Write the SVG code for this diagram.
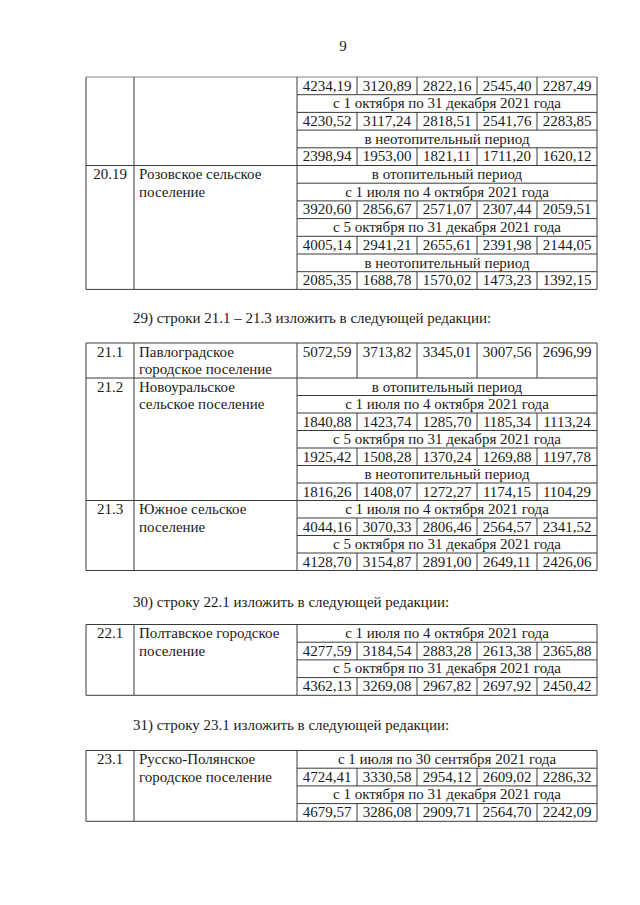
<svg xmlns="http://www.w3.org/2000/svg" width="640" height="905" viewBox="0 0 640 905">
<style>
text{font-family:"Liberation Serif","Times New Roman",serif;font-size:15px;fill:#1a1a1a}
.c{text-anchor:middle}
.g{stroke:#3a3a3a;stroke-width:1;fill:none}
.f{stroke:#8a8a8a;stroke-width:1;fill:none}
</style>
<rect width="640" height="905" fill="#ffffff"/>
<text id="pagenum" class="c" x="343" y="51">9</text>

<g id="table1">
<g id="t1-grid">
<path class="f" d="M86 77H597"/>
<path class="g" d="M86 77V289.4M134 77V289.4M297 77V289.4M597 77V289.4"/>
<path class="g" d="M297 94.7H597M297 112.4H597M297 130.1H597M297 147.8H597M86 165.5H597M297 183.2H597M297 200.9H597M297 218.6H597M297 236.3H597M297 254H597M297 271.7H597M86 289.4H597"/>
<path class="g" d="M357 77V94.7M417 77V94.7M477 77V94.7M537 77V94.7M357 112.4V130.1M417 112.4V130.1M477 112.4V130.1M537 112.4V130.1M357 147.8V165.5M417 147.8V165.5M477 147.8V165.5M537 147.8V165.5M357 200.9V218.6M417 200.9V218.6M477 200.9V218.6M537 200.9V218.6M357 236.3V254M417 236.3V254M477 236.3V254M537 236.3V254M357 271.7V289.4M417 271.7V289.4M477 271.7V289.4M537 271.7V289.4"/>
</g>
<g id="t1-prev">
<text class="c" x="327" y="90.5">4234,19</text><text class="c" x="387" y="90.5">3120,89</text><text class="c" x="447" y="90.5">2822,16</text><text class="c" x="507" y="90.5">2545,40</text><text class="c" x="567" y="90.5">2287,49</text>
<text class="c" x="447" y="108.2">с 1 октября по 31 декабря 2021 года</text>
<text class="c" x="327" y="125.9">4230,52</text><text class="c" x="387" y="125.9">3117,24</text><text class="c" x="447" y="125.9">2818,51</text><text class="c" x="507" y="125.9">2541,76</text><text class="c" x="567" y="125.9">2283,85</text>
<text class="c" x="447" y="143.6">в неотопительный период</text>
<text class="c" x="327" y="161.3">2398,94</text><text class="c" x="387" y="161.3">1953,00</text><text class="c" x="447" y="161.3">1821,11</text><text class="c" x="507" y="161.3">1711,20</text><text class="c" x="567" y="161.3">1620,12</text>
</g>
<g id="row-20-19">
<text class="c" x="110" y="179">20.19</text>
<text x="139" y="179">Розовское сельское</text>
<text x="139" y="196.7">поселение</text>
<text class="c" x="447" y="179">в отопительный период</text>
<text class="c" x="447" y="196.7">с 1 июля по 4 октября 2021 года</text>
<text class="c" x="327" y="214.4">3920,60</text><text class="c" x="387" y="214.4">2856,67</text><text class="c" x="447" y="214.4">2571,07</text><text class="c" x="507" y="214.4">2307,44</text><text class="c" x="567" y="214.4">2059,51</text>
<text class="c" x="447" y="232.1">с 5 октября по 31 декабря 2021 года</text>
<text class="c" x="327" y="249.8">4005,14</text><text class="c" x="387" y="249.8">2941,21</text><text class="c" x="447" y="249.8">2655,61</text><text class="c" x="507" y="249.8">2391,98</text><text class="c" x="567" y="249.8">2144,05</text>
<text class="c" x="447" y="267.5">в неотопительный период</text>
<text class="c" x="327" y="285.2">2085,35</text><text class="c" x="387" y="285.2">1688,78</text><text class="c" x="447" y="285.2">1570,02</text><text class="c" x="507" y="285.2">1473,23</text><text class="c" x="567" y="285.2">1392,15</text>
</g>
</g>

<text id="para29" x="133" y="323">29) строки 21.1 – 21.3 изложить в следующей редакции:</text>

<g id="table2">
<g id="t2-grid">
<path class="g" d="M86 343V570.5M134 343V570.5M297 343V570.5M597 343V570.5"/>
<path class="g" d="M86 343H597M86 378H597M297 395.5H597M297 413H597M297 430.5H597M297 448H597M297 465.5H597M297 483H597M86 500.5H597M297 518H597M297 535.5H597M297 553H597M86 570.5H597"/>
<path class="g" d="M357 343V378M417 343V378M477 343V378M537 343V378M357 413V430.5M417 413V430.5M477 413V430.5M537 413V430.5M357 448V465.5M417 448V465.5M477 448V465.5M537 448V465.5M357 483V500.5M417 483V500.5M477 483V500.5M537 483V500.5M357 518V535.5M417 518V535.5M477 518V535.5M537 518V535.5M357 553V570.5M417 553V570.5M477 553V570.5M537 553V570.5"/>
</g>
<g id="row-21-1">
<text class="c" x="110" y="356.5">21.1</text>
<text x="139" y="356.5">Павлоградское</text>
<text x="139" y="373.5">городское поселение</text>
<text class="c" x="327" y="356.5">5072,59</text><text class="c" x="387" y="356.5">3713,82</text><text class="c" x="447" y="356.5">3345,01</text><text class="c" x="507" y="356.5">3007,56</text><text class="c" x="567" y="356.5">2696,99</text>
</g>
<g id="row-21-2">
<text class="c" x="110" y="391.5">21.2</text>
<text x="139" y="391.5">Новоуральское</text>
<text x="139" y="409">сельское поселение</text>
<text class="c" x="447" y="391.5">в отопительный период</text>
<text class="c" x="447" y="409">с 1 июля по 4 октября 2021 года</text>
<text class="c" x="327" y="426.5">1840,88</text><text class="c" x="387" y="426.5">1423,74</text><text class="c" x="447" y="426.5">1285,70</text><text class="c" x="507" y="426.5">1185,34</text><text class="c" x="567" y="426.5">1113,24</text>
<text class="c" x="447" y="444">с 5 октября по 31 декабря 2021 года</text>
<text class="c" x="327" y="461.5">1925,42</text><text class="c" x="387" y="461.5">1508,28</text><text class="c" x="447" y="461.5">1370,24</text><text class="c" x="507" y="461.5">1269,88</text><text class="c" x="567" y="461.5">1197,78</text>
<text class="c" x="447" y="479">в неотопительный период</text>
<text class="c" x="327" y="496.5">1816,26</text><text class="c" x="387" y="496.5">1408,07</text><text class="c" x="447" y="496.5">1272,27</text><text class="c" x="507" y="496.5">1174,15</text><text class="c" x="567" y="496.5">1104,29</text>
</g>
<g id="row-21-3">
<text class="c" x="110" y="514">21.3</text>
<text x="139" y="514">Южное сельское</text>
<text x="139" y="531.5">поселение</text>
<text class="c" x="447" y="514">с 1 июля по 4 октября 2021 года</text>
<text class="c" x="327" y="531.5">4044,16</text><text class="c" x="387" y="531.5">3070,33</text><text class="c" x="447" y="531.5">2806,46</text><text class="c" x="507" y="531.5">2564,57</text><text class="c" x="567" y="531.5">2341,52</text>
<text class="c" x="447" y="549">с 5 октября по 31 декабря 2021 года</text>
<text class="c" x="327" y="566.5">4128,70</text><text class="c" x="387" y="566.5">3154,87</text><text class="c" x="447" y="566.5">2891,00</text><text class="c" x="507" y="566.5">2649,11</text><text class="c" x="567" y="566.5">2426,06</text>
</g>
</g>

<text id="para30" x="133" y="607">30) строку 22.1 изложить в следующей редакции:</text>

<g id="table3">
<g id="t3-grid">
<path class="g" d="M86 624.5V695.3M134 624.5V695.3M297 624.5V695.3M597 624.5V695.3"/>
<path class="g" d="M86 624.5H597M297 642.2H597M297 659.9H597M297 677.6H597M86 695.3H597"/>
<path class="g" d="M357 642.2V659.9M417 642.2V659.9M477 642.2V659.9M537 642.2V659.9M357 677.6V695.3M417 677.6V695.3M477 677.6V695.3M537 677.6V695.3"/>
</g>
<g id="row-22-1">
<text class="c" x="110" y="638">22.1</text>
<text x="139" y="638">Полтавское городское</text>
<text x="139" y="655.7">поселение</text>
<text class="c" x="447" y="638">с 1 июля по 4 октября 2021 года</text>
<text class="c" x="327" y="655.7">4277,59</text><text class="c" x="387" y="655.7">3184,54</text><text class="c" x="447" y="655.7">2883,28</text><text class="c" x="507" y="655.7">2613,38</text><text class="c" x="567" y="655.7">2365,88</text>
<text class="c" x="447" y="673.4">с 5 октября по 31 декабря 2021 года</text>
<text class="c" x="327" y="691.1">4362,13</text><text class="c" x="387" y="691.1">3269,08</text><text class="c" x="447" y="691.1">2967,82</text><text class="c" x="507" y="691.1">2697,92</text><text class="c" x="567" y="691.1">2450,42</text>
</g>
</g>

<text id="para31" x="133" y="730">31) строку 23.1 изложить в следующей редакции:</text>

<g id="table4">
<g id="t4-grid">
<path class="g" d="M86 750.5V821.3M134 750.5V821.3M297 750.5V821.3M597 750.5V821.3"/>
<path class="g" d="M86 750.5H597M297 768.2H597M297 785.9H597M297 803.6H597M86 821.3H597"/>
<path class="g" d="M357 768.2V785.9M417 768.2V785.9M477 768.2V785.9M537 768.2V785.9M357 803.6V821.3M417 803.6V821.3M477 803.6V821.3M537 803.6V821.3"/>
</g>
<g id="row-23-1">
<text class="c" x="110" y="764">23.1</text>
<text x="139" y="764">Русско-Полянское</text>
<text x="139" y="781.7">городское поселение</text>
<text class="c" x="447" y="764">с 1 июля по 30 сентября 2021 года</text>
<text class="c" x="327" y="781.7">4724,41</text><text class="c" x="387" y="781.7">3330,58</text><text class="c" x="447" y="781.7">2954,12</text><text class="c" x="507" y="781.7">2609,02</text><text class="c" x="567" y="781.7">2286,32</text>
<text class="c" x="447" y="799.4">с 1 октября по 31 декабря 2021 года</text>
<text class="c" x="327" y="817.1">4679,57</text><text class="c" x="387" y="817.1">3286,08</text><text class="c" x="447" y="817.1">2909,71</text><text class="c" x="507" y="817.1">2564,70</text><text class="c" x="567" y="817.1">2242,09</text>
</g>
</g>
</svg>
